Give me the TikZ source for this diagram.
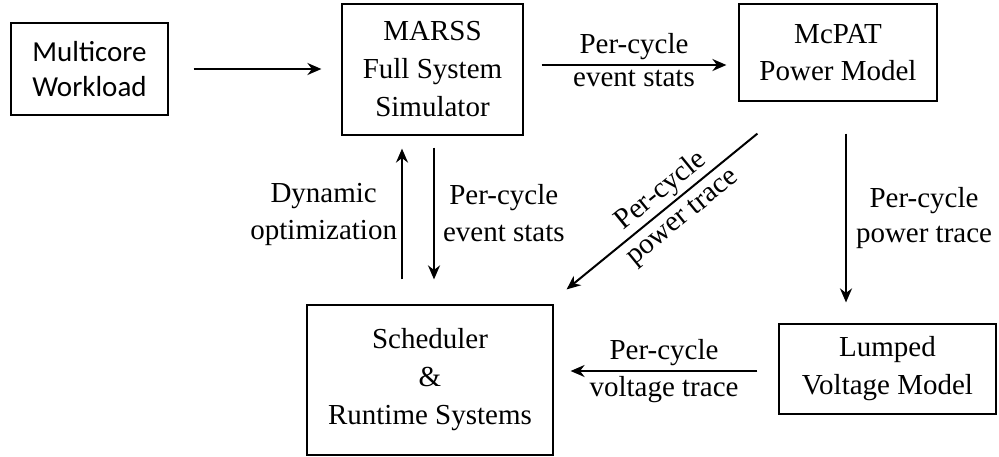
\documentclass[tikz,border=0pt]{standalone}
\usepackage{fontspec}
\setmainfont{Liberation Serif}
\newfontfamily\calibrifont{Carlito}
\usetikzlibrary{arrows.meta,calc,positioning}

\begin{document}
\begin{tikzpicture}[
    x=1pt, y=-1pt,
    font=\fontsize{29}{37}\selectfont,
    block/.style={draw, line width=1.2pt, align=center, inner sep=0pt},
    flow/.style={line width=2pt, -{Stealth[length=14pt,width=12pt]}},
    lbl/.style={align=center, inner sep=4pt}
  ]
  \useasboundingbox (0,0) rectangle (999,456);

  \node[block, minimum width=157pt, minimum height=92pt,
    font=\calibrifont\fontsize{29}{35}\selectfont] (workload) at (89.5,69) {Multicore\\Workload};
  \node[block, minimum width=181pt, minimum height=131pt,
    font=\fontsize{29}{38}\selectfont] (marss) at (432.5,69.5) {MARSS\\Full System\\Simulator};
  \node[block, minimum width=198pt, minimum height=97pt] (mcpat) at (838,52.5) {McPAT\\Power Model};
  \node[block, minimum width=246pt, minimum height=150pt,
    font=\fontsize{29}{38}\selectfont] (sched) at (430,380) {Scheduler\\\&\\Runtime Systems};
  \node[block, minimum width=217pt, minimum height=90pt,
    font=\fontsize{29}{38}\selectfont] (lumped) at (887.5,369) {Lumped\\Voltage Model};

  \draw[flow, shorten <=25pt, shorten >=20pt] (workload.east) -- (workload.east -| marss.west);
  \draw[flow] ($(marss.east)+(18,-4.5)$) -- ($(marss.east -| mcpat.west)+(-12,-4.5)$)
    node[lbl, above, midway] {Per-cycle}
    node[lbl, below, midway] {event stats};
  \draw[flow] ($(sched.north)+(-28,-25)$) -- ($(marss.south)+(-30.5,13)$)
    node[lbl, left, midway] {Dynamic\\optimization};
  \draw[flow] ($(marss.south)+(1.5,12)$) -- ($(sched.north)+(4,-25)$)
    node[lbl, right, midway, inner sep=8pt] {Per-cycle\\event stats};
  \draw[flow] ($(mcpat.south west)+(19,32)$) -- ($(sched.north east)+(13,-15)$)
    node[lbl, sloped, above, pos=0.45, inner sep=2pt] {Per-cycle}
    node[lbl, sloped, below, pos=0.45, inner sep=7pt] {power trace};
  \draw[flow] ($(mcpat.south)+(8,32)$) -- ($(lumped.north)+(-41.5,-21)$)
    node[lbl, right, midway, inner sep=9pt, font=\fontsize{29}{35}\selectfont] {Per-cycle\\power trace};
  \draw[flow] ($(lumped.west)+(-21,2)$) -- ($(sched.east)+(17,-9)$)
    node[lbl, above, midway] {Per-cycle}
    node[lbl, below, midway] {voltage trace};
\end{tikzpicture}
\end{document}
